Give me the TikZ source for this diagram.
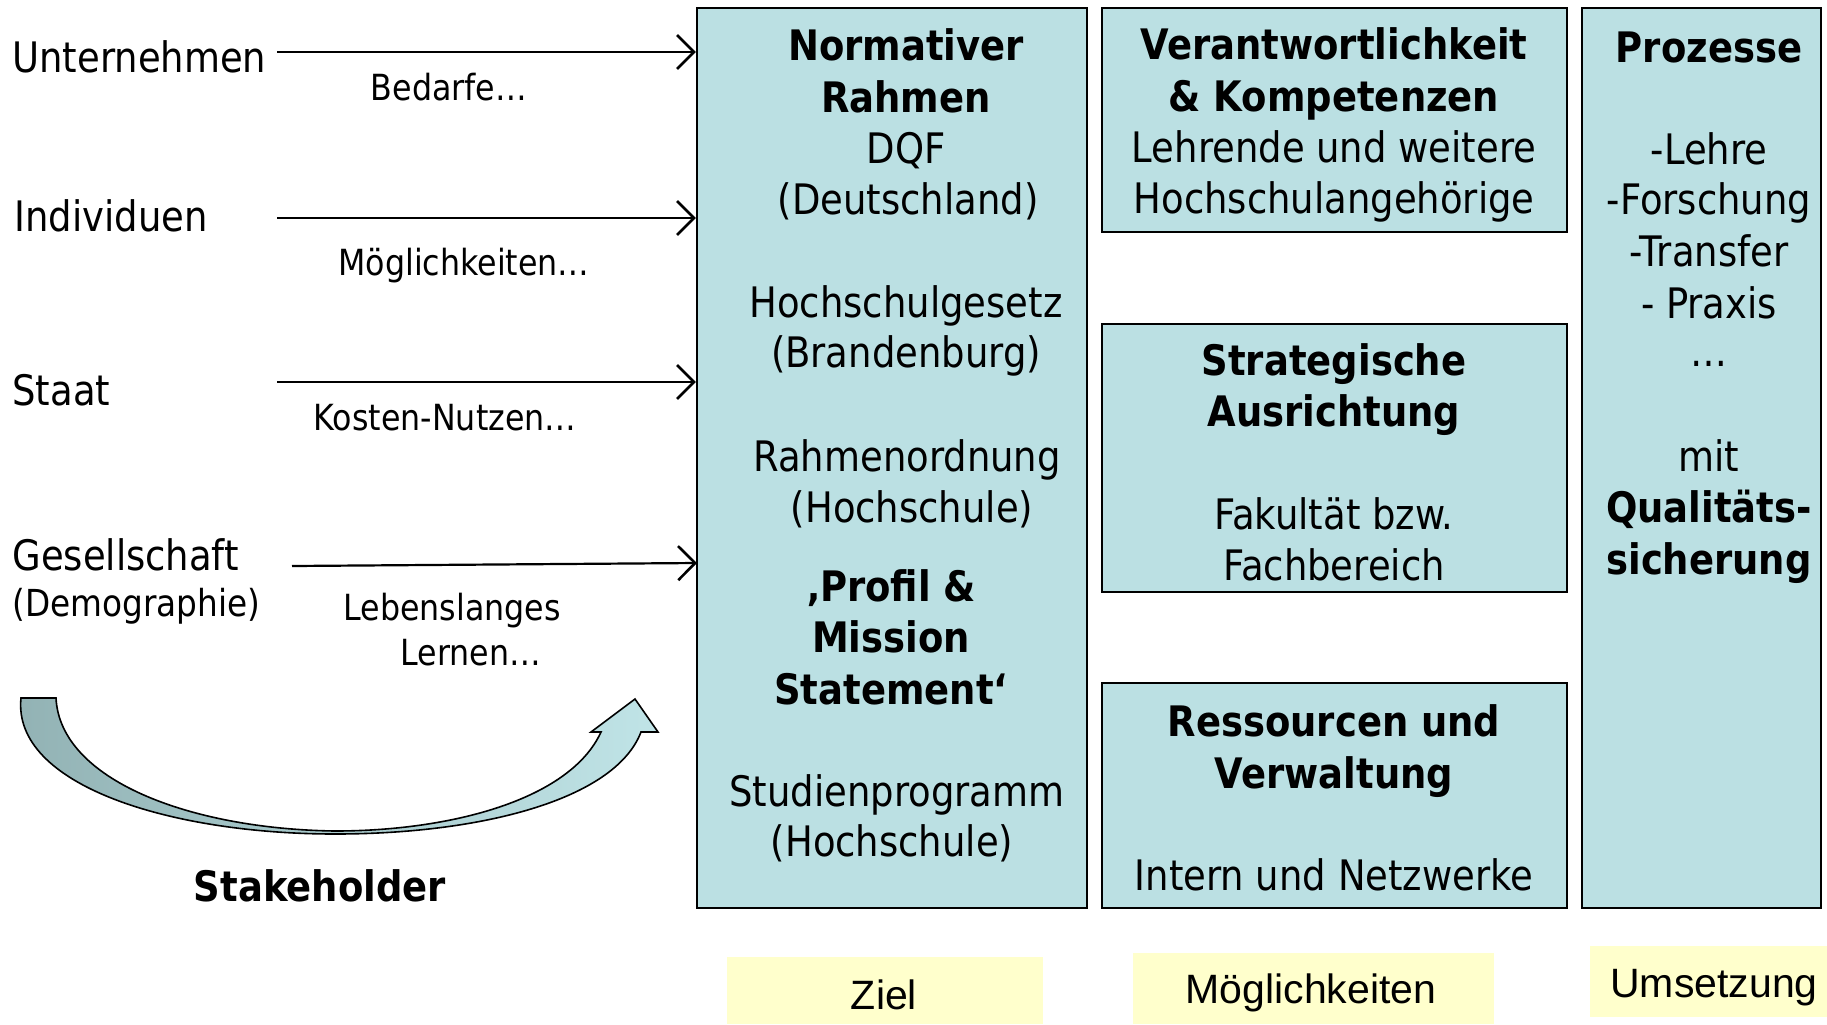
\documentclass[tikz,border=0pt]{standalone}
\usepackage{fontspec}
\setmainfont{DejaVu Sans}[FakeStretch=0.88]
\newfontfamily\arialf{Liberation Sans}
\usetikzlibrary{arrows.meta,fit}
\definecolor{boxfill}{RGB}{187,224,227}
\definecolor{yel}{RGB}{255,255,204}
\definecolor{arrL}{RGB}{146,178,180}
\definecolor{arrR}{RGB}{192,228,231}
\begin{document}
\begin{tikzpicture}[x=0.5pt,y=-0.5pt,
  box/.style={draw=black, line width=1.1pt, fill=boxfill, inner sep=0pt},
  ybox/.style={fill=yel, inner sep=0pt},
  ylab/.style={inner sep=0pt, font=\arialf\fontsize{20.5}{24}\selectfont},
  big/.style={inner sep=0pt, anchor=base, font=\fontsize{21}{25}\selectfont},
  small/.style={inner sep=0pt, anchor=base, font=\fontsize{18}{22}\selectfont},
  conn/.style={line width=1.1pt, -{Straight Barb[length=8.5pt,width=17pt,line width=1.3pt]}},
  curvearrow/.style={left color=arrL, right color=arrR, draw=black, line width=0.8pt}]
\useasboundingbox (0,0) rectangle (1827,1024);

% boxes
\coordinate (b1a) at (697,8);  \coordinate (b1b) at (1087,908);
\coordinate (b2a) at (1102,8); \coordinate (b2b) at (1567,232);
\coordinate (b3a) at (1102,324); \coordinate (b3b) at (1567,592);
\coordinate (b4a) at (1102,683); \coordinate (b4b) at (1567,908);
\coordinate (b5a) at (1582,8); \coordinate (b5b) at (1821,908);
\node[box, fit=(b1a)(b1b)] (box1) {};
\node[box, fit=(b2a)(b2b)] (box2) {};
\node[box, fit=(b3a)(b3b)] (box3) {};
\node[box, fit=(b4a)(b4b)] (box4) {};
\node[box, fit=(b5a)(b5b)] (box5) {};

% yellow labels
\coordinate (y1a) at (727,957);  \coordinate (y1b) at (1043,1024);
\coordinate (y2a) at (1133,953); \coordinate (y2b) at (1494,1024);
\coordinate (y3a) at (1590,946); \coordinate (y3b) at (1827,1017);
\node[ybox, fit=(y1a)(y1b)] (ybox1) {};
\node[ybox, fit=(y2a)(y2b)] (ybox2) {};
\node[ybox, fit=(y3a)(y3b)] (ybox3) {};
\node[ylab] (ylab1) at (884,995) {Ziel};
\node[ylab] (ylab2) at (1311,993) {Möglichkeiten};
\node[ylab] (ylab3) at (1714,988) {Umsetzung};

% box texts
\foreach \xx/\yy/\t [count=\i] in {
  906/60/{\bfseries Normativer}, 906/112/{\bfseries Rahmen}, 906/163/DQF, 908/214/(Deutschland),
  906/317/Hochschulgesetz, 906/367/(Brandenburg), 907/471/Rahmenordnung, 912/522/(Hochschule),
  891/601/{\bfseries ‚Profil \&}, 891/652/{\bfseries Mission}, 891/704/{\bfseries Statement‘},
  897/806/Studienprogramm, 892/856/(Hochschule)}
  \node[big] (t1-\i) at (\xx,\yy) {\t};
\foreach \yy/\t [count=\i] in {
  59/{\bfseries Verantwortlichkeit}, 111/{\bfseries \& Kompetenzen},
  162/Lehrende und weitere, 213/Hochschulangehörige}
  \node[big] (t2-\i) at (1334,\yy) {\t};
\foreach \yy/\t [count=\i] in {
  375/{\bfseries Strategische}, 426/{\bfseries Ausrichtung}, 529/Fakultät bzw., 580/Fachbereich}
  \node[big] (t3-\i) at (1334,\yy) {\t};
\foreach \yy/\t [count=\i] in {
  736/{\bfseries Ressourcen und}, 788/{\bfseries Verwaltung}, 890/Intern und Netzwerke}
  \node[big] (t4-\i) at (1334,\yy) {\t};
\foreach \yy/\t [count=\i] in {
  62/{\bfseries Prozesse}, 164/-Lehre, 214/-Forschung, 266/-Transfer, 318/- Praxis, 366/…,
  471/mit, 522/{\bfseries Qualitäts-}, 574/{\bfseries sicherung}}
  \node[big] (t5-\i) at (1709,\yy) {\t};

% left labels
\node[big, anchor=base west] (unt) at (12,72) {Unternehmen};
\node[big, anchor=base west] (ind) at (14,231) {Individuen};
\node[big, anchor=base west] (sta) at (12,405) {Staat};
\node[big, anchor=base west] (ges) at (12,570) {Gesellschaft};
\node[big, anchor=base west, font=\fontsize{18.6}{22}\selectfont] (dem) at (12,616) {(Demographie)};
\node[small] (bed) at (449,100) {Bedarfe…};
\node[small] (moe) at (464,275) {Möglichkeiten…};
\node[small] (kos) at (445,430) {Kosten-Nutzen…};
\node[small] (leb) at (452,620) {Lebenslanges};
\node[small] (ler) at (471,665) {Lernen…};
\node[big] (stk) at (320,901) {\bfseries Stakeholder};

% connectors
\coordinate (s1) at (277,52);
\coordinate (s2) at (277,218);
\coordinate (s3) at (277,382);
\coordinate (s4) at (292,566);
\coordinate (e4) at (697,563);
\draw[conn] (s1) -- (s1 -| box1.west);
\draw[conn] (s2) -- (s2 -| box1.west);
\draw[conn] (s3) -- (s3 -| box1.west);
\draw[conn] (s4) -- (e4);

% curved block arrow
\path[curvearrow] (21,698) -- (56,698)
  .. controls (60,780) and (190,829) .. (335,831)
  .. controls (450,831) and (570,800) .. (601,732)
  -- (591,732) -- (635,699) -- (658,732) -- (641,732)
  .. controls (615,800) and (480,834) .. (335,834)
  .. controls (170,834) and (12,785) .. (21,698) -- cycle;
\end{tikzpicture}
\end{document}
